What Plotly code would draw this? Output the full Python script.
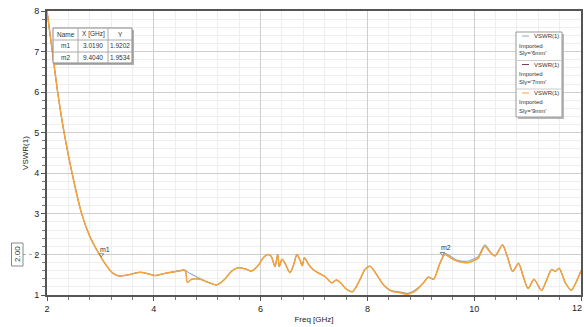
import plotly.graph_objects as go

# ---------------- data ----------------
freq_ghz = [2.0, 2.1, 2.2, 2.32, 2.47, 2.65, 2.8, 2.98, 3.1, 3.22, 3.34, 3.5, 3.74, 3.9,
            4.02, 4.2, 4.37, 4.5, 4.57, 4.6, 4.63, 4.71, 4.87, 5.0, 5.18, 5.33, 5.45,
            5.58, 5.72, 5.83, 5.95, 6.05, 6.14, 6.2, 6.27, 6.32, 6.35, 6.4, 6.45, 6.55,
            6.62, 6.68, 6.74, 6.78, 6.82, 6.9, 6.99, 7.1, 7.21, 7.33, 7.42, 7.5, 7.6,
            7.72, 7.85, 7.95, 8.05, 8.15, 8.3, 8.42, 8.49, 8.6, 8.74, 8.82, 8.92, 9.05,
            9.14, 9.24, 9.35, 9.45, 9.55, 9.67, 9.8, 9.9, 9.98, 10.07, 10.2, 10.3, 10.39,
            10.53, 10.62, 10.72, 10.83, 10.92, 11.01, 11.12, 11.26, 11.35, 11.45, 11.52,
            11.59, 11.71, 11.82, 11.92, 12.0]

vswr_9mm = [8.0, 7.0, 6.0, 5.0, 4.0, 3.0, 2.45, 2.0, 1.75, 1.55, 1.47, 1.49, 1.56, 1.52,
            1.48, 1.53, 1.57, 1.6, 1.62, 1.55, 1.31, 1.39, 1.39, 1.32, 1.25, 1.39, 1.58,
            1.67, 1.64, 1.59, 1.72, 1.92, 2.0, 1.95, 1.70, 2.0, 1.70, 1.88, 1.80, 1.55,
            1.75, 2.0, 1.85, 1.72, 1.92, 1.75, 1.62, 1.53, 1.45, 1.30, 1.37, 1.30, 1.15,
            1.08, 1.35, 1.62, 1.71, 1.55, 1.25, 1.12, 1.08, 1.06, 1.02, 1.05, 1.12, 1.30,
            1.44, 1.39, 1.75, 2.0, 1.92, 1.84, 1.80, 1.80, 1.84, 1.90, 2.2, 2.05, 1.96,
            2.23, 1.95, 1.58, 1.78, 1.45, 1.16, 1.39, 1.11, 1.35, 1.63, 1.58, 1.66, 1.29,
            1.12, 1.35, 1.6]

vswr_6mm = [8.0, 7.0, 6.0, 5.0, 4.0, 3.0, 2.45, 2.0, 1.75, 1.55, 1.47, 1.49, 1.56, 1.52,
            1.48, 1.53, 1.57, 1.6, 1.61, 1.60, 1.57, 1.51, 1.40, 1.32, 1.25, 1.39, 1.58,
            1.67, 1.64, 1.59, 1.72, 1.92, 2.0, 1.95, 1.70, 2.0, 1.70, 1.88, 1.80, 1.55,
            1.75, 2.0, 1.85, 1.72, 1.92, 1.75, 1.62, 1.53, 1.45, 1.30, 1.37, 1.30, 1.15,
            1.08, 1.35, 1.62, 1.71, 1.55, 1.25, 1.12, 1.10, 1.08, 1.04, 1.07, 1.15, 1.30,
            1.44, 1.39, 1.76, 2.03, 1.96, 1.86, 1.83, 1.84, 1.88, 1.94, 2.24, 2.07, 1.97,
            2.24, 1.95, 1.58, 1.78, 1.45, 1.16, 1.39, 1.11, 1.35, 1.63, 1.58, 1.66, 1.29,
            1.12, 1.35, 1.6]

vswr_7mm = list(vswr_9mm)

series_names = ["Sly='6mm'", "Sly='7mm'", "Sly='9mm'"]
series_colors = ["#8fa8ba", "#7b3c5c", "#f5a43a"]
series_widths = [1.1, 0.5, 1.5]

x_tick_vals = [2, 4, 6, 8, 10, 12]
y_tick_vals = [1, 2, 3, 4, 5, 6, 7, 8]

marker_names = ["m1", "m2"]
marker_x = [3.0190, 9.4040]
marker_y = [1.9202, 1.9534]

ref_level = 2.00

# ---------------- geometry helpers ----------------
W, H = 584, 327
L, R, T, B = 47, 3, 11, 32
PW, PH = W - L - R, H - T - B


def px(x):
    return (x - L) / PW


def py(y):
    return (H - B - y) / PH


FONT = "Liberation Sans Narrow, Arial Narrow, Liberation Sans, Arial"

fig = go.Figure()
for name, vals, col, w in zip(series_names, [vswr_6mm, vswr_7mm, vswr_9mm], series_colors,
                              series_widths):
    fig.add_trace(go.Scatter(x=freq_ghz, y=vals, mode="lines", name=name,
                             line=dict(color=col, width=w, shape="spline", smoothing=0.7),
                             showlegend=False, hoverinfo="skip"))

fig.add_trace(go.Scatter(x=marker_x, y=[v + 0.07 for v in marker_y], mode="markers",
                         marker=dict(symbol="triangle-down", size=4, color="white",
                                     line=dict(color="#666", width=0.8)),
                         showlegend=False, hoverinfo="skip"))

shapes = []
annots = []


def text(x, y, s, xa="center", ya="middle", size=6.5, xref="paper", yref="paper", color="#333", **kw):
    annots.append(dict(xref=xref, yref=yref, x=x, y=y, text=s, showarrow=False,
                       xanchor=xa, yanchor=ya,
                       font=dict(family=FONT, size=size, color=color), **kw))


# last x tick label (kept inside the page edge)
x_tick_text = [str(v) for v in x_tick_vals[:-1]] + [""]
text(1, 0, str(x_tick_vals[-1]), xa="right", ya="top", size=9, color="#222",
     xshift=R, yshift=-6)

# reference line at 2.00
shapes.append(dict(type="line", xref="paper", yref="y", x0=0, x1=1, y0=ref_level, y1=ref_level,
                   line=dict(color="#aaaaaa", width=1, dash="dot"), layer="below"))
shapes.append(dict(type="line", xref="paper", yref="y", x0=px(23), x1=0, y0=ref_level, y1=ref_level,
                   line=dict(color="#aaaaaa", width=1, dash="dot")))
shapes.append(dict(type="rect", xref="paper", yref="paper", x0=px(11.5), x1=px(23),
                   y0=py(266), y1=py(243), line=dict(color="#888", width=1), fillcolor="white"))
text(px(17.5), ref_level, f"{ref_level:.2f}", yref="y", size=8, textangle=-90)

# marker labels
for n, mx, my in zip(marker_names, marker_x, marker_y):
    text(mx, my, n, xa="left", ya="bottom", xref="x", yref="y", xshift=-3, yshift=3, size=7)

# marker table
tx = [53, 78, 108, 132]
ty = [28, 40, 52, 63]
shapes.append(dict(type="rect", xref="paper", yref="paper", x0=px(tx[0] + 2), x1=px(tx[-1] + 2),
                   y0=py(ty[-1] + 2), y1=py(ty[0] + 2), line=dict(width=0), fillcolor="#b0b0b0"))
shapes.append(dict(type="rect", xref="paper", yref="paper", x0=px(tx[0]), x1=px(tx[-1]),
                   y0=py(ty[-1]), y1=py(ty[0]), line=dict(color="#888", width=1), fillcolor="white"))
for xx in tx[1:-1]:
    shapes.append(dict(type="line", xref="paper", yref="paper", x0=px(xx), x1=px(xx),
                       y0=py(ty[-1]), y1=py(ty[0]), line=dict(color="#aaa", width=1)))
for yy in ty[1:-1]:
    shapes.append(dict(type="line", xref="paper", yref="paper", x0=px(tx[0]), x1=px(tx[-1]),
                       y0=py(yy), y1=py(yy), line=dict(color="#aaa", width=1)))
rows = [["Name", "X [GHz]", "Y"]] + [[n, f"{x:.4f}", f"{y:.4f}"]
                                      for n, x, y in zip(marker_names, marker_x, marker_y)]
for ri, row in enumerate(rows):
    for ci, cell in enumerate(row):
        text(px((tx[ci] + tx[ci + 1]) / 2), py((ty[ri] + ty[ri + 1]) / 2), cell)

# legend box
lx0, lx1, ly0, ly1 = 516, 562, 32, 117
shapes.append(dict(type="rect", xref="paper", yref="paper", x0=px(lx0 + 2), x1=px(lx1 + 2),
                   y0=py(ly1 + 2), y1=py(ly0 + 2), line=dict(width=0), fillcolor="#b8b8b8"))
shapes.append(dict(type="rect", xref="paper", yref="paper", x0=px(lx0), x1=px(lx1),
                   y0=py(ly1), y1=py(ly0), line=dict(color="#999", width=1), fillcolor="white"))
for i, (name, col) in enumerate(zip(series_names, series_colors)):
    base = 36 + i * 28.5
    shapes.append(dict(type="line", xref="paper", yref="paper", x0=px(522), x1=px(529),
                       y0=py(base), y1=py(base), line=dict(color=col, width=1)))
    text(px(561), py(base), "VSWR(1)", xa="right", size=6)
    text(px(517), py(base + 9.5), "Imported", xa="left", size=6)
    text(px(517), py(base + 17.5), name, xa="left", size=6)
    if i < 2:
        shapes.append(dict(type="line", xref="paper", yref="paper", x0=px(lx0), x1=px(lx1),
                           y0=py(base + 24.5), y1=py(base + 24.5), line=dict(color="#ccc", width=1)))

fig.update_layout(
    width=W, height=H, margin=dict(l=L, r=R, t=T, b=B, autoexpand=False),
    paper_bgcolor="white", plot_bgcolor="white",
    font=dict(family=FONT, size=8, color="#222"),
    shapes=shapes, annotations=annots, showlegend=False,
    xaxis=dict(range=[2, 12], tickmode="array", tickvals=x_tick_vals, ticktext=x_tick_text,
               showgrid=True, gridcolor="#cfcfcf", gridwidth=1,
               zeroline=False, showline=True, mirror=True, linecolor="#555", linewidth=2,
               ticks="outside", ticklen=4, tickcolor="#555", automargin=False,
               tickfont=dict(family=FONT, size=9, color="#222"),
               minor=dict(dtick=0.4, tick0=2, showgrid=True, gridcolor="#eeeeee", ticks="outside",
                          ticklen=3, tickcolor="#777"),
               title=dict(text="Freq [GHz]", font=dict(family=FONT, size=8, color="#222"),
                          standoff=4)),
    yaxis=dict(range=[1, 8], tickmode="array", tickvals=y_tick_vals,
               showgrid=True, gridcolor="#cfcfcf", gridwidth=1,
               zeroline=False, showline=True, mirror=True, linecolor="#555", linewidth=2,
               ticks="outside", ticklen=4, tickcolor="#555", automargin=False,
               tickfont=dict(family=FONT, size=9, color="#222"),
               minor=dict(dtick=0.2, tick0=1, showgrid=True, gridcolor="#eeeeee", ticks="outside",
                          ticklen=3, tickcolor="#777"),
               title=dict(text="VSWR(1)", font=dict(family=FONT, size=8, color="#222"),
                          standoff=4)),
)

fig.write_html("out.html")
